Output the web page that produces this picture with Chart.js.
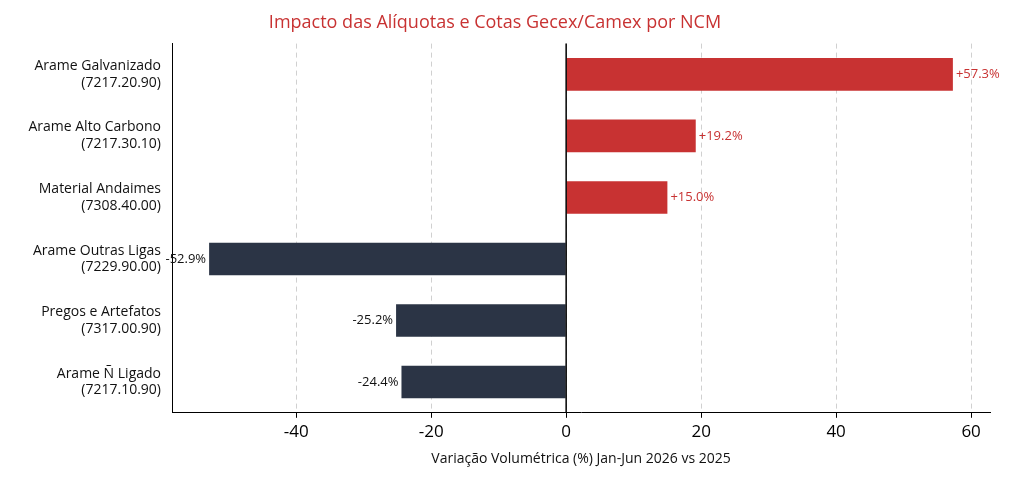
<!DOCTYPE html>
<html><head><meta charset="utf-8">
<script src="https://cdn.jsdelivr.net/npm/chart.js@4"></script>
<style>body{margin:0;background:#fff}</style>
</head><body>
<canvas id="c" width="1024" height="485"></canvas>
<script>
const categories = [
  ['Arame Galvanizado', '(7217.20.90)'],
  ['Arame Alto Carbono', '(7217.30.10)'],
  ['Material Andaimes', '(7308.40.00)'],
  ['Arame Outras Ligas', '(7229.90.00)'],
  ['Pregos e Artefatos', '(7317.00.90)'],
  ['Arame Ñ Ligado', '(7217.10.90)']
];
const variation = [57.3, 19.2, 15.0, -52.9, -25.2, -24.4];
const xTicks = [-40, -20, 0, 20, 40, 60];
const red = '#c83232', dark = '#2b3445';

const extras = {
  id: 'extras',
  afterDatasetsDraw(chart) {
    const ctx = chart.ctx, x = chart.scales.x, a = chart.chartArea;
    ctx.save();
    ctx.strokeStyle = '#000'; ctx.lineWidth = 1.5;
    ctx.beginPath(); ctx.moveTo(x.getPixelForValue(0), a.top); ctx.lineTo(x.getPixelForValue(0), a.bottom); ctx.stroke();
    ctx.font = '13px "Open Sans", sans-serif'; ctx.textBaseline = 'middle';
    chart.getDatasetMeta(0).data.forEach((bar, i) => {
      const v = variation[i];
      const t = (v > 0 ? '+' : '') + v.toFixed(1) + '%';
      if (v > 0) { ctx.fillStyle = red; ctx.textAlign = 'left'; ctx.fillText(t, bar.x + 3, bar.y); }
      else { ctx.fillStyle = '#111'; ctx.textAlign = 'right'; ctx.fillText(t, bar.x - 3, bar.y); }
    });
    ctx.restore();
  }
};

new Chart(document.getElementById('c'), {
  type: 'bar',
  data: {
    labels: categories,
    datasets: [{
      data: variation,
      backgroundColor: variation.map(v => v > 0 ? red : dark),
      categoryPercentage: 1, barPercentage: 0.53
    }]
  },
  plugins: [extras],
  options: {
    indexAxis: 'y', responsive: false, animation: false,
    layout: { padding: { left: 0, right: 34, top: 0, bottom: 14 } },
    plugins: {
      legend: { display: false }, tooltip: { enabled: false },
      title: { display: true, text: 'Impacto das Alíquotas e Cotas Gecex/Camex por NCM', color: red,
        font: { size: 18, family: '"Open Sans", sans-serif', weight: 'normal' }, padding: { top: 12, bottom: 10 } }
    },
    scales: {
      x: {
        min: -58.4, max: 62.8,
        afterBuildTicks: s => { s.ticks = xTicks.map(v => ({ value: v })); },
        grid: { color: '#d0d0d0', drawTicks: true, tickColor: '#000', tickLength: 5 },
        border: { color: '#000', dash: [5, 4] },
        ticks: { color: '#000', font: { size: 17, family: '"Open Sans", sans-serif' }, padding: 4 },
        title: { display: true, text: 'Variação Volumétrica (%) Jan-Jun 2026 vs 2025', color: '#111',
          font: { size: 14, family: '"Open Sans", sans-serif' } }
      },
      y: {
        afterFit: s => { s.width = 172; },
        grid: { display: false, tickColor: '#000', tickLength: 5 },
        border: { color: '#000' },
        ticks: { color: '#111', font: { size: 14, family: '"Open Sans", sans-serif' }, padding: 6 }
      }
    }
  }
});
</script>
</body></html>
